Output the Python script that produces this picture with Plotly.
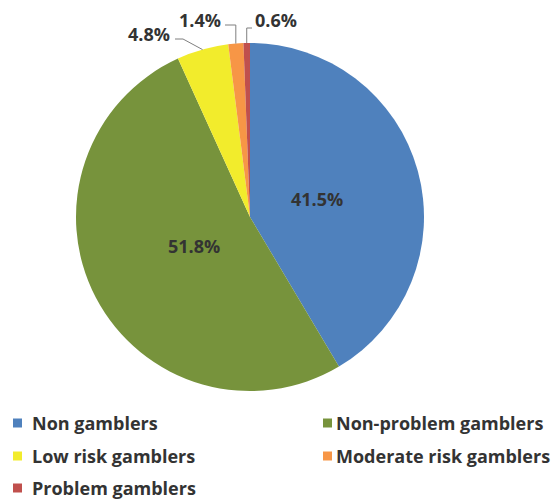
import math
import plotly.graph_objects as go

# Gambling status breakdown (percent of respondents)
categories = ["Non gamblers", "Non-problem gamblers", "Low risk gamblers",
              "Moderate risk gamblers", "Problem gamblers"]
shares = [41.5, 51.8, 4.8, 1.4, 0.6]
colors = ["#4f81bd", "#77933c", "#f2ec2c", "#f79646", "#c0504d"]
# slices labelled inside the pie vs. with a leader line
inside = [True, True, False, False, False]
# radial position of the inside labels, as a fraction of the radius
label_radius = [0.40, 0.36, 0, 0, 0]

W, H = 560, 500
CX, CY, R = 250, 217, 174          # pie centre / radius in pixels
FONT = "Open Sans"
TEXT_COLOR = "#333333"
FS = 18


def px(x):
    return x / W


def py(y):
    return 1 - y / H


def label_font(size=FS):
    return dict(family=FONT, size=size, color=TEXT_COLOR, weight="bold")


fig = go.Figure(go.Pie(
    labels=categories,
    values=shares,
    sort=False,
    direction="clockwise",
    rotation=0,
    marker=dict(colors=colors, line=dict(width=0)),
    textinfo="none",
    hoverinfo="label+percent",
    showlegend=False,
    domain=dict(x=[px(CX - R), px(CX + R)], y=[py(CY + R), py(CY - R)]),
))

# Outside labels with elbow leader lines for the thin slices
label_pos = {2: (149, 34), 3: (200, 20), 4: (276, 20)}     # text centres, px
leader_start = {2: (175, 39), 3: (225, 25), 4: (252, 28)}
total = sum(shares)
shapes, annotations = [], []
cum = 0.0
for i, v in enumerate(shares):
    mid = (cum + v / 2) / total * 2 * math.pi
    cum += v
    if inside[i]:
        rr = label_radius[i] * R
        annotations.append(dict(
            x=px(CX + rr * math.sin(mid)), y=py(CY - rr * math.cos(mid)),
            xref="paper", yref="paper", text=f"{v:.1f}%", showarrow=False,
            xanchor="center", yanchor="middle", font=label_font()))
        continue
    tip = (CX + R * math.sin(mid), CY - R * math.cos(mid))
    sx, sy = leader_start[i]
    if i == 2:
        elbow = (sx + 8, sy)
    else:
        elbow = (tip[0], sy)
    path = (f"M {px(sx)} {py(sy)} L {px(elbow[0])} {py(elbow[1])} "
            f"L {px(tip[0])} {py(tip[1])}")
    shapes.append(dict(type="path", xref="paper", yref="paper", path=path,
                       line=dict(color="#7f7f7f", width=1)))
    lx, ly = label_pos[i]
    annotations.append(dict(
        x=px(lx), y=py(ly), xref="paper", yref="paper",
        text=f"{v:.1f}%", showarrow=False,
        xanchor="center", yanchor="middle", font=label_font()))

# Legend: two columns, three rows
col_square_x = [13, 323]
col_text_x = [31, 335]
row_y = [423, 456, 488]
SQ = 9
for i, (name, c) in enumerate(zip(categories, colors)):
    col, row = i % 2, i // 2
    x0, yc = col_square_x[col], row_y[row]
    shapes.append(dict(type="rect", xref="paper", yref="paper",
                       x0=px(x0), x1=px(x0 + SQ),
                       y0=py(yc + SQ / 2), y1=py(yc - SQ / 2),
                       fillcolor=c, line=dict(width=0)))
    annotations.append(dict(
        x=px(col_text_x[col]), y=py(yc), xref="paper", yref="paper",
        text=name, showarrow=False, xanchor="left", yanchor="middle",
        borderpad=0, font=label_font()))

fig.update_layout(
    width=W, height=H,
    margin=dict(l=0, r=0, t=0, b=0),
    paper_bgcolor="white",
    plot_bgcolor="white",
    shapes=shapes,
    annotations=annotations,
)

fig.write_html("out.html")
